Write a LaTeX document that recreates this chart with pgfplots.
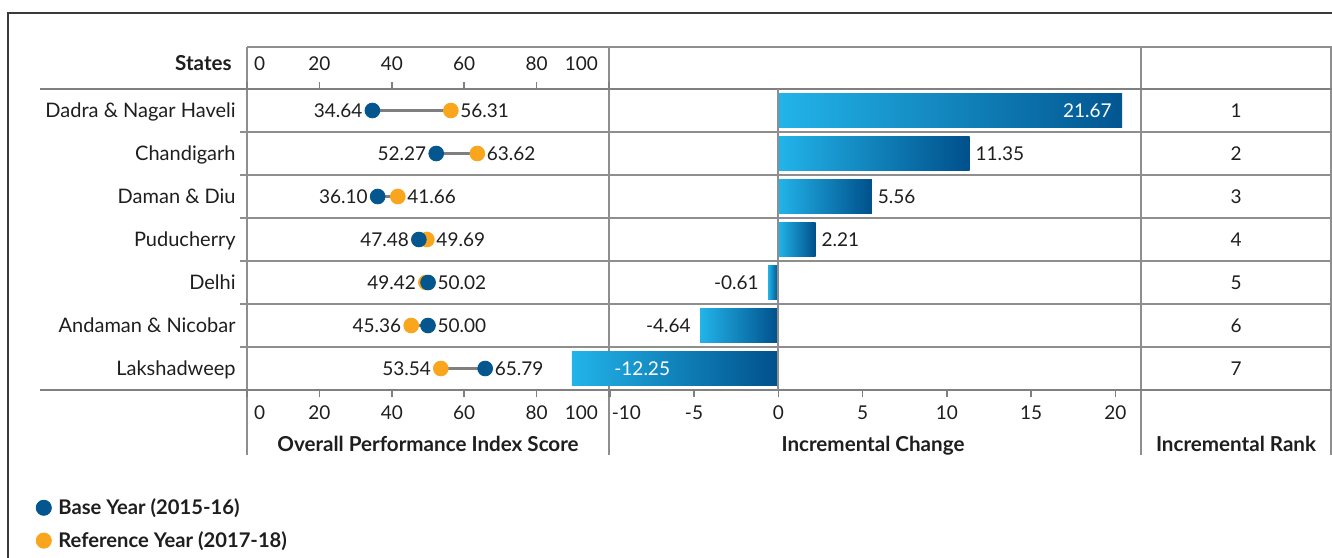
\documentclass[border=0pt]{standalone}
\usepackage{pgfplots}
\pgfplotsset{compat=1.18}
\usepackage{pgfplotstable}
\usepackage{fontspec}
\setmainfont{Lato}
\definecolor{baseblue}{HTML}{03568E}
\definecolor{reforange}{HTML}{F9A61E}
\definecolor{linegray}{HTML}{8E8E8E}
\definecolor{thickgray}{HTML}{808080}
\definecolor{framegray}{HTML}{3A3A3A}
\definecolor{conngray}{HTML}{7F7F7F}
\definecolor{barlight}{HTML}{22B4E9}
\definecolor{bardark}{HTML}{00508B}
\definecolor{textcol}{HTML}{1E1E1E}

\newcommand{\numfont}{\fontsize{9.5}{11}\selectfont}
\newcommand{\txtfont}{\fontsize{10}{12}\selectfont}
\newcommand{\ttlfont}{\fontsize{10.3}{12}\selectfont\bfseries}

\pgfplotstableread{
row base ref lo hi span lolab hilab change rank
1 34.64 56.31 34.64 56.31 21.67 34.64 56.31 21.67 1
2 52.27 63.62 52.27 63.62 11.35 52.27 63.62 11.35 2
3 36.10 41.66 36.10 41.66 5.56 36.10 41.66 5.56 3
4 47.48 49.69 47.48 49.69 2.21 47.48 49.69 2.21 4
5 50.02 49.42 49.42 50.02 0.60 49.42 50.02 -0.61 5
6 50.00 45.36 45.36 50.00 4.64 45.36 50.00 -4.64 6
7 65.79 53.54 53.54 65.79 12.25 53.54 65.79 -12.25 7
}\data

\begin{document}
\begin{tikzpicture}[font=\numfont, text=textcol]
\path[use as bounding box] (0,0) rectangle (666pt,-278.5pt);
\begin{scope}[x=0.5pt,y=-0.5pt]
  \draw[line width=1pt, framegray] (8,560) -- (8,13) -- (1336,13);
  \draw[line width=0.75pt, linegray] (247,47) -- (1332,47);
  \foreach \yy in {132,175,218,261,304,347}
    \draw[line width=0.75pt, linegray] (240,\yy) -- (1332,\yy);
  \foreach \xx in {247,609,1141,1331}
    \draw[line width=1pt, linegray] (\xx,47) -- (\xx,455);
  \draw[line width=1.4pt, thickgray] (40,89) -- (1332,89);
  \draw[line width=1.4pt, thickgray] (40,390) -- (1332,390);
  % titles
  \node[anchor=east, font=\ttlfont, inner sep=0pt] at (232,63) {States};
  \node[font=\ttlfont, anchor=base, inner sep=0pt] at (428,451) {Overall Performance Index Score};
  \node[font=\ttlfont, anchor=base, inner sep=0pt] at (873,451) {Incremental Change};
  \node[font=\ttlfont, anchor=base, inner sep=0pt] at (1236,451) {Incremental Rank};
  % rank column
  \foreach \r [count=\i] in {1,2,3,4,5,6,7}
    \node at (1236,{89+43*(\i-0.5)}) {\r};
\end{scope}

% top scale for left panel
\begin{axis}[
  at={(123.5pt,-44.5pt)}, anchor=north west, scale only axis,
  width=181pt, height=150.5pt,
  xmin=0, xmax=100, ymin=0, ymax=1,
  axis line style={draw=none},
  xtick={0,20,40,60,80,100},
  xticklabels={\makebox[0pt][l]{\hspace{3.5pt}0},20,40,60,80,\makebox[0pt][r]{100\hspace{5.5pt}}},
  xtick pos=right, xticklabel pos=right,
  xtick style={draw=none}, ytick=\empty,
  tick align=outside, major tick length=3.5pt,
  xticklabel style={yshift=2pt},
]
\end{axis}

% left panel: dumbbells
\begin{axis}[
  at={(123.5pt,-44.5pt)}, anchor=north west, scale only axis,
  width=181pt, height=150.5pt,
  xmin=0, xmax=100, ymin=0.5, ymax=7.5, y dir=reverse,
  axis line style={draw=none},
  xtick={0,20,40,60,80,100},
  xticklabels={\makebox[0pt][l]{\hspace{3.5pt}0},20,40,60,80,\makebox[0pt][r]{100\hspace{5.5pt}}},
  xtick pos=both, xticklabel pos=left,
  xticklabel style={yshift=-1pt},
  tick align=outside, major tick length=3.5pt,
  xtick style={thickgray, line width=0.75pt},
  ytick={1,2,3,4,5,6,7},
  yticklabels={Dadra \& Nagar Haveli, Chandigarh, Daman \& Diu, Puducherry, Delhi, Andaman \& Nicobar, Lakshadweep},
  ytick style={draw=none},
  yticklabel style={inner sep=0pt, anchor=base east, xshift=-2pt, yshift=-3.6pt, font=\txtfont},
  clip=false,
  legend style={at={(axis description cs:-0.6,-0.332)}, anchor=north west,
    draw=none, fill=none, font=\fontsize{10.1}{12}\selectfont\bfseries,
    row sep=3pt, cells={anchor=west},
    /tikz/every odd column/.append style={column sep=1.5pt}},
  legend cell align=left,
]
\addlegendimage{only marks, mark=*, mark size=3.8pt, baseblue}
\addlegendentry{Base Year (2015-16)}
\addlegendimage{only marks, mark=*, mark size=3.8pt, reforange}
\addlegendentry{Reference Year (2017-18)}

\addplot[only marks, mark=none, forget plot,
  error bars/.cd, x dir=plus, x explicit, error mark=none,
  error bar style={line width=1.4pt, conngray}]
  table[x=lo, y=row, x error=span] {\data};
\addplot[only marks, mark=*, mark size=3.7pt, reforange, forget plot]
  table[x=ref, y=row] {\data};
\addplot[only marks, mark=*, mark size=3.7pt, baseblue, forget plot]
  table[x=base, y=row] {\data};
\addplot[only marks, mark=none, forget plot, nodes near coords,
  point meta=explicit symbolic,
  every node near coord/.append style={anchor=east, inner sep=0pt, xshift=-4.8pt, text=textcol}]
  table[x=lo, y=row, meta=lolab] {\data};
\addplot[only marks, mark=none, forget plot, nodes near coords,
  point meta=explicit symbolic,
  every node near coord/.append style={anchor=west, inner sep=0pt, xshift=4.6pt, text=textcol}]
  table[x=hi, y=row, meta=hilab] {\data};
\end{axis}

% middle panel: incremental change bars
\begin{axis}[
  at={(284.5pt,-44.5pt)}, anchor=north west, scale only axis,
  width=276.5pt, height=150.5pt,
  xmin=-12.42, xmax=20.4, ymin=0.5, ymax=7.5, y dir=reverse,
  axis line style={draw=none},
  xbar, bar width=17pt,
  xtick={-10,-5,0,5,10,15,20},
  xticklabels={\makebox[0pt][l]{\hspace{1pt}-10},-5,0,5,10,15,20},
  xtick pos=left, xticklabel pos=left,
  xticklabel style={yshift=-1pt},
  tick align=outside, major tick length=3.5pt,
  xtick style={thickgray, line width=0.75pt},
  ytick=\empty,
  clip mode=individual,
  barstyle/.style={draw=none, left color=barlight, right color=bardark, bar shift=0pt},
]
\addplot[barstyle] coordinates {(21.67,1)};
\addplot[barstyle] coordinates {(11.35,2)};
\addplot[barstyle] coordinates {(5.56,3)};
\addplot[barstyle] coordinates {(2.21,4)};
\addplot[barstyle] coordinates {(-0.61,5)};
\addplot[barstyle] coordinates {(-4.64,6)};
\addplot[barstyle] coordinates {(-12.25,7)};
\draw[linegray, line width=1pt] (axis cs:0,0.5) -- (axis cs:0,7.5);
\node[anchor=east, inner sep=0pt, text=white] at ([xshift=-5pt]axis cs:20.4,1) {21.67};
\node[anchor=west, inner sep=0pt] at ([xshift=2.8pt]axis cs:11.35,2) {11.35};
\node[anchor=west, inner sep=0pt] at ([xshift=2.8pt]axis cs:5.56,3) {5.56};
\node[anchor=west, inner sep=0pt] at ([xshift=2.8pt]axis cs:2.21,4) {2.21};
\node[anchor=east, inner sep=0pt] at ([xshift=-4.5pt]axis cs:-0.61,5) {-0.61};
\node[anchor=east, inner sep=0pt] at ([xshift=-4.5pt]axis cs:-4.64,6) {-4.64};
\node[anchor=west, inner sep=0pt, text=white] at (axis cs:-9.75,7) {-12.25};
\end{axis}
\end{tikzpicture}
\end{document}
